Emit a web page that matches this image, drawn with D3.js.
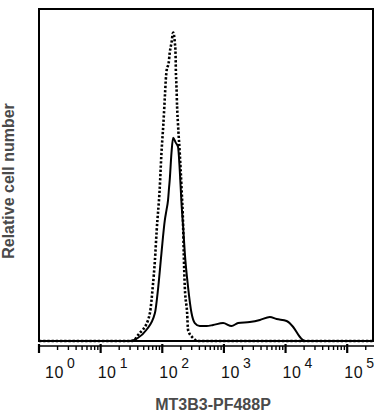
<!DOCTYPE html>
<html>
<head>
<meta charset="utf-8">
<script src="https://cdn.jsdelivr.net/npm/d3@7"></script>
<style>
  body { margin: 0; background: #fff; }
  svg { display: block; }
</style>
</head>
<body>
<div id="chart"></div>
<script>
// Fluorescence intensity (linear units) and relative counts
const isotypeIntensity = [1, 33, 43, 48, 63, 70, 76, 81, 91, 97, 104, 111, 114, 118, 127, 132, 141, 150,
  160, 164, 166, 170, 174, 180, 192, 205, 218, 223, 232, 253, 262, 316, 380, 262144];
const isotypeCount = [0, 0, 2.4, 3.3, 8.4, 16.2, 24.3, 33, 46, 56.5, 65, 74.5, 78.4, 81.4, 83.5, 86.5, 89.5, 92.6,
  89.5, 86.5, 81.4, 76.3, 70.3, 65, 56.5, 46.2, 34.2, 26.4, 16.2, 8.4, 3.3, 0.9, 0, 0];

const stainedIntensity = [1, 30, 40, 55, 76, 86, 97, 110, 117, 124, 129, 132, 141, 150, 166, 180, 192, 205,
  218, 232, 262, 298, 337, 406, 522, 668, 970, 1330, 1700, 2630, 3830, 5560, 7140, 10400, 13300, 17100, 20600, 262144];
const stainedCount = [0, 0, 0.9, 3.3, 8.4, 16.2, 26.4, 36.3, 39.3, 42.3, 46.2, 48.3, 56.5, 61, 59.5, 58.3, 51.4, 41.4,
  34.2, 26.4, 16.2, 8.4, 5.4, 4.5, 4.5, 4.8, 5.4, 4.5, 5.4, 5.7, 6.3, 7.2, 6.6, 6.0, 4.2, 1.2, 0, 0];

const decades = [0, 1, 2, 3, 4, 5];
const xTitle = "MT3B3-PF488P";
const yTitle = "Relative cell number";

const width = 376;
const height = 416;
const box = { left: 39, top: 9, right: 373, bottom: 341 };

const svg = d3.select("#chart")
  .append("svg")
  .attr("width", width)
  .attr("height", height);

const x = d3.scaleLog()
  .domain([1, 262144])
  .range([box.left, box.right]);

const y = d3.scaleLinear()
  .domain([0, 100])
  .range([box.bottom, 8]);

// frame
svg.append("rect")
  .attr("x", box.left)
  .attr("y", box.top)
  .attr("width", box.right - box.left)
  .attr("height", box.bottom - box.top)
  .attr("fill", "none")
  .attr("stroke", "#000")
  .attr("stroke-width", 2);

// histograms
const line = d3.line()
  .x(d => x(d[0]))
  .y(d => y(d[1]))
  .curve(d3.curveMonotoneX);

svg.append("path")
  .datum(d3.zip(stainedIntensity, stainedCount))
  .attr("d", line)
  .attr("fill", "none")
  .attr("stroke", "#000")
  .attr("stroke-width", 2)
  .attr("stroke-linejoin", "round");

svg.append("path")
  .datum(d3.zip(isotypeIntensity, isotypeCount))
  .attr("d", line)
  .attr("fill", "none")
  .attr("stroke", "#000")
  .attr("stroke-width", 2.6)
  .attr("stroke-dasharray", "2.3,1.9");

// log axis with minor ticks
const axisY = 346;
const axisG = svg.append("g");

axisG.append("line")
  .attr("x1", box.left - 1)
  .attr("x2", box.right + 1)
  .attr("y1", axisY)
  .attr("y2", axisY)
  .attr("stroke", "#000")
  .attr("stroke-width", 1.5);

const minorTicks = [];
decades.forEach(e => {
  for (let m = 2; m <= 9; m++) {
    const v = m * Math.pow(10, e);
    if (v <= x.domain()[1]) minorTicks.push(v);
  }
});

axisG.selectAll(".minor")
  .data(minorTicks)
  .enter()
  .append("line")
  .attr("x1", d => x(d))
  .attr("x2", d => x(d))
  .attr("y1", axisY)
  .attr("y2", axisY + 4)
  .attr("stroke", "#000")
  .attr("stroke-width", 1.4);

axisG.selectAll(".major")
  .data(decades)
  .enter()
  .append("line")
  .attr("x1", d => x(Math.pow(10, d)))
  .attr("x2", d => x(Math.pow(10, d)))
  .attr("y1", axisY - 2)
  .attr("y2", axisY + 7)
  .attr("stroke", "#000")
  .attr("stroke-width", 2.2);

const labels = axisG.selectAll(".lbl")
  .data(decades)
  .enter()
  .append("text")
  .attr("x", d => Math.max(x(Math.pow(10, d)) - 3, 45))
  .attr("y", 378)
  .attr("text-anchor", "start")
  .style("font-family", "'Liberation Sans', Arial, sans-serif")
  .style("fill", "#111");

labels.append("tspan")
  .style("font-size", "16px")
  .style("letter-spacing", "0.6px")
  .text("10");

labels.append("tspan")
  .attr("dx", 3)
  .attr("dy", -10)
  .style("font-size", "14px")
  .text(d => d);

// axis titles
svg.append("text")
  .attr("x", 213)
  .attr("y", 410)
  .attr("text-anchor", "middle")
  .style("font-family", "'Liberation Sans', Arial, sans-serif")
  .style("font-weight", "bold")
  .style("font-size", "16px")
  .style("fill", "#4a4a4a")
  .text(xTitle);

svg.append("text")
  .attr("transform", "translate(14,181)rotate(-90)")
  .attr("text-anchor", "middle")
  .style("font-family", "'Liberation Sans', Arial, sans-serif")
  .style("font-weight", "bold")
  .style("font-size", "16px")
  .style("fill", "#4a4a4a")
  .text(yTitle);
</script>
</body>
</html>
